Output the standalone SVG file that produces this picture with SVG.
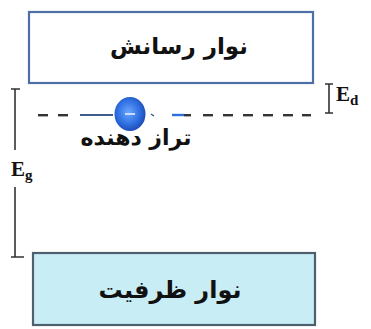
<svg xmlns="http://www.w3.org/2000/svg" width="371" height="329" viewBox="0 0 371 329">
  <style>
    .band-label { font-family: "DejaVu Sans", sans-serif; font-weight: bold; fill: #111; text-anchor: middle; }
    .sym { font-family: "Liberation Serif", "Times New Roman", serif; font-weight: bold; fill: #111; }
    .bracket { stroke: #333; stroke-width: 1.6; fill: none; }
    .dash { fill: #333; }
  </style>
  <defs>
    <radialGradient id="electronFill" cx="45%" cy="45%" r="60%">
      <stop offset="0" stop-color="#6aa6ff"/>
      <stop offset="0.6" stop-color="#2f6fe0"/>
      <stop offset="1" stop-color="#1a45b0"/>
    </radialGradient>
  </defs>
  <rect width="371" height="329" fill="#ffffff"/>

  <!-- conduction band -->
  <g id="conduction-band">
    <rect x="29" y="12" width="284" height="71" fill="#ffffff" stroke="#4d6ea6" stroke-width="2.2"/>
    <text class="band-label" x="179" y="54" font-size="23">نوار رسانش</text>
  </g>

  <!-- valence band -->
  <g id="valence-band">
    <rect x="33" y="253" width="282" height="72" fill="#c9edf5" stroke="#4e5f6e" stroke-width="2.2"/>
    <text class="band-label" x="170" y="298" font-size="24">نوار ظرفیت</text>
  </g>

  <!-- donor level with electron -->
  <g id="donor-level">
    <rect class="dash" x="38" y="114" width="10" height="2.4"/>
    <rect class="dash" x="58" y="114" width="10" height="2.4"/>
    <rect x="80" y="114" width="33" height="2" fill="#3f5c8a"/>
    <line x1="151" y1="114" x2="154" y2="116" stroke="#3f5c8a" stroke-width="1.5"/>
    <rect x="172" y="113.8" width="12" height="2.4" fill="#2f6fe0"/>
    <rect class="dash" x="184" y="114" width="7" height="2.4"/>
    <rect class="dash" x="203" y="114" width="10" height="2.4"/>
    <rect class="dash" x="223" y="114" width="10" height="2.4"/>
    <rect class="dash" x="243" y="114" width="10" height="2.4"/>
    <rect class="dash" x="263" y="114" width="10" height="2.4"/>
    <rect class="dash" x="283" y="114" width="10" height="2.4"/>
    <rect class="dash" x="302" y="114" width="9" height="2.4"/>
    <ellipse cx="130" cy="114" rx="15.5" ry="17" fill="url(#electronFill)"/>
    <rect x="125" y="113" width="10" height="2" fill="#c9dcff"/>
    <text class="band-label" x="136" y="145" font-size="22">تراز دهنده</text>
  </g>

  <!-- energy markers -->
  <g id="connectors">
    <g id="ed-marker">
      <path class="bracket" d="M325 84 H333 M329 84 V113 M325 113 H333"/>
      <text class="sym" x="336" y="101" font-size="21">E<tspan font-size="15" dy="4">d</tspan></text>
    </g>
    <g id="eg-marker">
      <path class="bracket" d="M11 89 H20 M15 89 V150 M15 187 V257 M11 257 H24"/>
      <text class="sym" x="11" y="176" font-size="21">E<tspan font-size="15" dy="4">g</tspan></text>
    </g>
  </g>
</svg>
